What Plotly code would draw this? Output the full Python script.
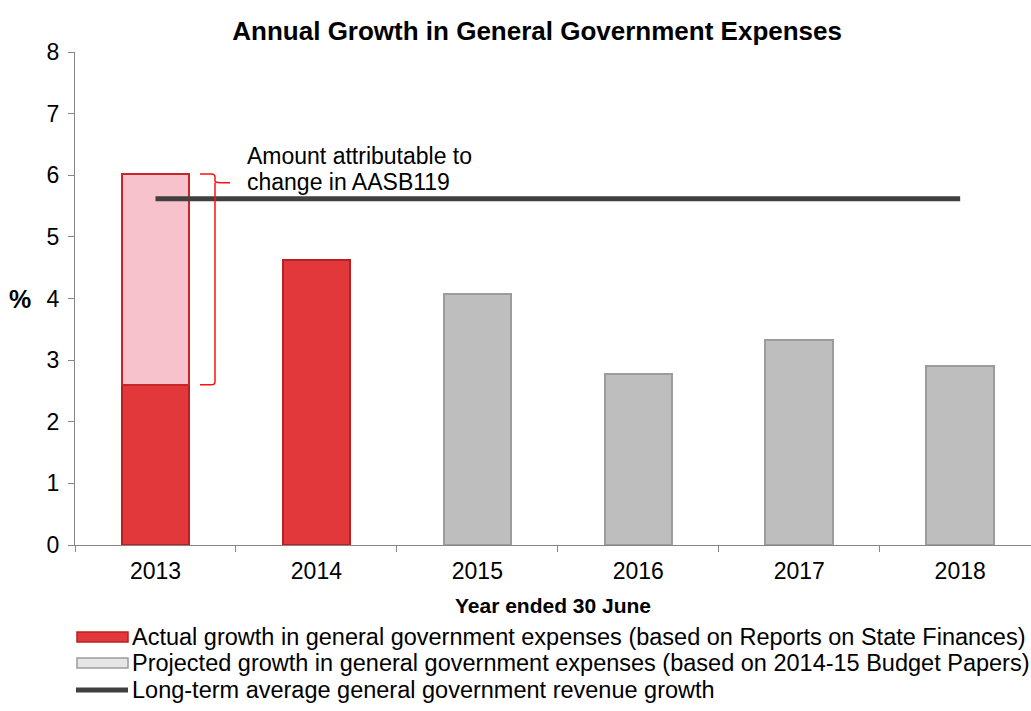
import plotly.graph_objects as go

years = ["2013", "2014", "2015", "2016", "2017", "2018"]
actual_growth = [2.6, 4.63, None, None, None, None]
aasb119_change = [3.42, None, None, None, None, None]
projected_growth = [None, None, 4.08, 2.78, 3.33, 2.9]
revenue_growth_avg = [5.62, 5.62, 5.62, 5.62, 5.62, 5.62]

legend_labels = [
    "Actual growth in general government expenses (based on Reports on State Finances)",
    "Projected growth in general government expenses (based on 2014-15 Budget Papers)",
    "Long-term average general government revenue growth",
]
note_lines = ["Amount attributable to", "change in AASB119"]

FONT = "Liberation Sans, Arial, sans-serif"
RED, RED_EDGE = "#E2383B", "#B82024"
PINK, PINK_EDGE = "#F8C2CD", "#C8262B"
GREY, GREY_EDGE = "#BEBEBE", "#9C9C9C"
LINE = "#404040"

fig = go.Figure()
fig.add_bar(x=years, y=actual_growth, width=0.42, name=legend_labels[0],
            marker=dict(color=RED, line=dict(color=RED_EDGE, width=2)))
fig.add_bar(x=years, y=aasb119_change, width=0.42, name="AASB119",
            marker=dict(color=PINK, line=dict(color=PINK_EDGE, width=2)))
fig.add_bar(x=years, y=projected_growth, width=0.42, name=legend_labels[1],
            marker=dict(color=GREY, line=dict(color=GREY_EDGE, width=2)))
fig.add_scatter(x=years, y=revenue_growth_avg, mode="lines", name=legend_labels[2],
                line=dict(color=LINE, width=5))

L, R = 75, 1031
W = R - L
def px(x):
    return (x - L) / W

# curly bracket marking the AASB119 portion of the 2013 bar
top = actual_growth[0] + aasb119_change[0]
bot = actual_growth[0]
tip = top - 0.14
path = (f"M {px(200)},{top} L {px(211)},{top} Q {px(215)},{top} {px(215)},{top-0.05} "
        f"L {px(215)},{tip+0.03} Q {px(215)},{tip} {px(220)},{tip} L {px(230)},{tip} "
        f"M {px(215)},{tip} L {px(215)},{bot+0.05} Q {px(215)},{bot} {px(211)},{bot} L {px(200)},{bot}")
fig.add_shape(type="path", path=path, xref="paper", yref="y",
              line=dict(color="#FF1010", width=1.5))

for i, line_text in enumerate(note_lines):
    fig.add_annotation(x=px(245), y=tip + 0.425 - 0.42 * i, xref="paper", yref="y",
                       text=line_text, showarrow=False, xanchor="left", yanchor="middle",
                       font=dict(size=23, color="#000", family=FONT))

# y-axis unit label
fig.add_annotation(x=px(33), y=4, xref="paper", yref="y", text="<b>%</b>",
                   showarrow=False, xanchor="right", font=dict(size=25, color="#000", family=FONT))

# custom legend
def py(y):
    return (545 - y) / (545 - 52)
rows = [637, 663, 690]
fig.add_shape(type="rect", xref="paper", yref="paper", x0=px(77), x1=px(128),
              y0=py(632), y1=py(642), fillcolor=RED, line=dict(color=RED_EDGE, width=1.5))
fig.add_shape(type="rect", xref="paper", yref="paper", x0=px(77), x1=px(128),
              y0=py(658), y1=py(668), fillcolor="#E6E6E6", line=dict(color=GREY_EDGE, width=1.5))
fig.add_shape(type="line", xref="paper", yref="paper", x0=px(76), x1=px(128),
              y0=py(690), y1=py(690), line=dict(color=LINE, width=5))
for r, label in zip(rows, legend_labels):
    fig.add_annotation(x=px(130), y=py(r), xref="paper", yref="paper", text=label,
                       showarrow=False, xanchor="left", yanchor="middle",
                       font=dict(size=23.5, color="#000", family=FONT))

fig.update_layout(
    width=1031, height=711,
    margin=dict(l=L, r=0, t=52, b=166),
    barmode="stack",
    showlegend=False,
    paper_bgcolor="white", plot_bgcolor="white",
    font=dict(family=FONT, size=23, color="#000"),
    title=dict(text="<b>Annual Growth in General Government Expenses</b>",
               x=0.521, xanchor="center", y=0.957, yanchor="middle",
               font=dict(size=26, family=FONT, color="#000")),
)
fig.update_xaxes(
    type="category", range=[-0.5, 5.44], tickson="boundaries",
    showline=True, linecolor="#868686", linewidth=1.3,
    ticks="outside", ticklen=6, tickcolor="#868686",
    showgrid=False, zeroline=False, ticklabelstandoff=5,
    tickfont=dict(size=23, family=FONT),
    title=dict(text="<b>Year ended 30 June</b>", font=dict(size=21, family=FONT), standoff=15),
)
fig.update_yaxes(
    range=[0, 8], dtick=1, showline=True, linecolor="#868686", linewidth=1.3,
    ticks="outside", ticklen=6, tickcolor="#868686",
    showgrid=False, zeroline=False, ticklabelstandoff=4,
    tickfont=dict(size=23, family=FONT),
)

fig.write_html("out.html")
